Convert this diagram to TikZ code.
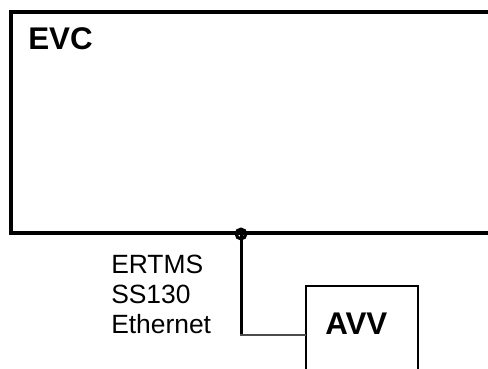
\documentclass[tikz,border=0pt]{standalone}
\usepackage{fontspec}
\setmainfont{Liberation Sans}
\usepackage{tikz}
\usetikzlibrary{calc}

\tikzset{
  unitbox/.style={draw,rectangle,anchor=north west,inner sep=0pt,outer sep=0pt},
  biglabel/.style={anchor=north west,inner sep=0pt,font=\fontsize{23.5}{27}\selectfont\bfseries},
  linklabel/.style={anchor=north west,inner sep=0pt,align=left,font=\fontsize{19.8}{22.5}\selectfont},
}

\begin{document}
\begin{tikzpicture}[x=0.75pt,y=-0.75pt,line join=miter]
  \useasboundingbox (0,0) rectangle (488,368);
  \clip (0,0) rectangle (488,368);
  % units
  \node[unitbox,line width=3pt,minimum width=381.75pt,minimum height=165.75pt] (evc) at (11,12) {};
  \node[unitbox,line width=1.5pt,minimum width=84pt,minimum height=73.5pt] (avv) at (306,286) {};
  \node[biglabel] (evcname) at (28,27) {EVC};
  \node[biglabel] (avvname) at (325,313) {AVV};
  % link
  \coordinate (jn) at (241,234);
  \coordinate (bend) at (241,335);
  \draw[line width=2.25pt] (jn) -- (bend);
  \draw[line width=1.5pt,black!70] ($(bend)+(-1.5,0)$) -- (bend -| avv.west);
  \draw[line width=2.4pt] (jn) circle (3.6pt);
  \draw[line width=1.2pt] ($(jn)+(-5,0)$) -- ($(jn)+(5,0)$);
  \draw[line width=1.2pt] ($(jn)+(0,-5)$) -- ($(jn)+(0,5)$);
  \node[linklabel] (linkname) at (111,255) {ERTMS\\SS130\\Ethernet};
\end{tikzpicture}
\end{document}
